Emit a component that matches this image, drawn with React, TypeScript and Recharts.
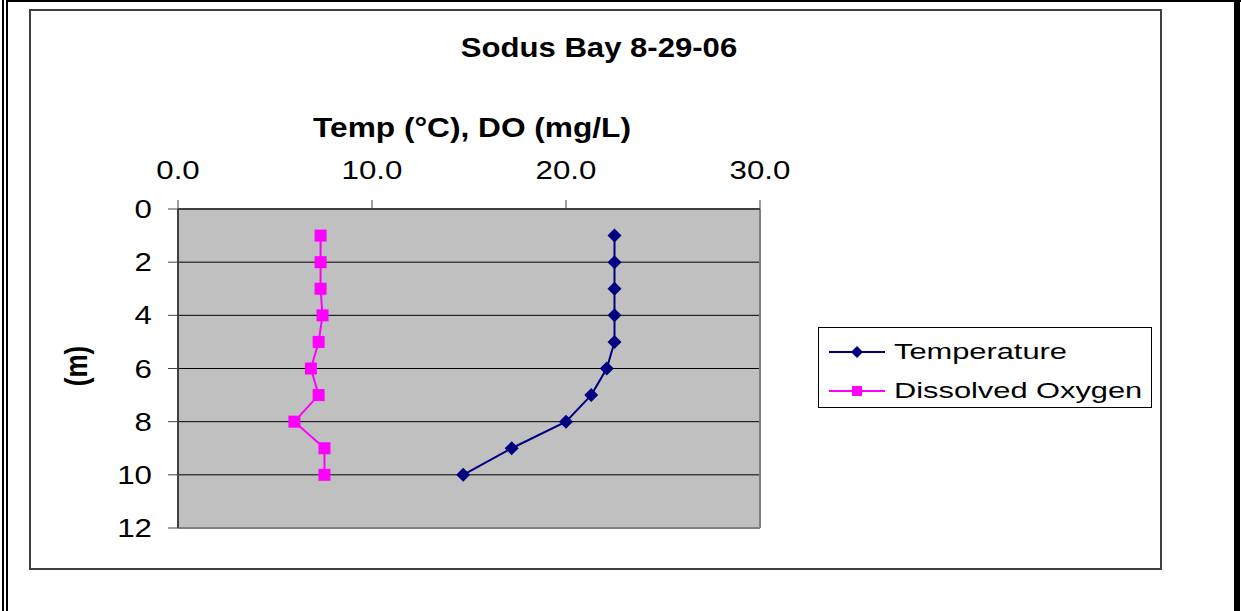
import React from "react";
import { LineChart, Line, XAxis, YAxis, CartesianGrid, ReferenceLine } from "recharts";

// depth (m) and readings per depth
const depths = [1, 2, 3, 4, 5, 6, 7, 8, 9, 10];
const temperature = [22.5, 22.5, 22.5, 22.5, 22.5, 22.1, 21.3, 20.0, 17.2, 14.7];
const oxygen = [7.35, 7.35, 7.35, 7.45, 7.25, 6.85, 7.25, 6.0, 7.55, 7.55];

const xTicks = [0, 10, 20, 30];
const yTicks = [0, 2, 4, 6, 8, 10, 12];

const NAVY = "#000080";
const MAGENTA = "#FF00FF";
const FONT = "'Liberation Sans', Arial, sans-serif";

const data = depths.map((d, i) => ({ depth: d, temp: temperature[i], dox: oxygen[i] }));

const diamond = (p: any) => (
  <path
    key={`t-${p.index}`}
    d={`M${p.cx},${p.cy - 7} L${p.cx + 7},${p.cy} L${p.cx},${p.cy + 7} L${p.cx - 7},${p.cy} Z`}
    fill={NAVY}
  />
);

const square = (p: any) => (
  <rect key={`o-${p.index}`} x={p.cx - 6} y={p.cy - 6} width={12} height={12} fill={MAGENTA} />
);

// ticks are drawn a bit wider than the font, like the stretched original
const XTick = (p: any) => (
  <g transform={`translate(${p.x},${p.y - 21}) scale(1.25,1)`}>
    <text x={0} y={0} textAnchor="middle" fontSize={25} fontFamily={FONT} fill="#000">
      {Number(p.payload.value).toFixed(1)}
    </text>
  </g>
);

const YTick = (p: any) => (
  <g transform={`translate(${p.x},${p.y + 9}) scale(1.25,1)`}>
    <text x={0} y={0} textAnchor="end" fontSize={25} fontFamily={FONT} fill="#000">
      {p.payload.value}
    </text>
  </g>
);

function LegendRow({ top, label, marker }: { top: number; label: string; marker: "d" | "s" }) {
  const color = marker === "d" ? NAVY : MAGENTA;
  return (
    <div style={{ position: "absolute", left: 0, top, width: 330, height: 30 }}>
      <svg width={70} height={30} style={{ position: "absolute", left: 10, top: 0 }}>
        <line x1={0} y1={15} x2={56} y2={15} stroke={color} strokeWidth={2} />
        {marker === "d" ? (
          <path d="M28,9 L34,15 L28,21 L22,15 Z" fill={color} />
        ) : (
          <rect x={23} y={10} width={10} height={10} fill={color} />
        )}
      </svg>
      <div
        style={{
          position: "absolute",
          left: 75,
          top: 0,
          lineHeight: "30px",
          fontSize: 22,
          fontFamily: FONT,
          whiteSpace: "nowrap",
          transform: "scaleX(1.4)",
          transformOrigin: "left center",
        }}
      >
        {label}
      </div>
    </div>
  );
}

export default function App() {
  return (
    <div style={{ position: "absolute", left: 0, top: 0, width: 1241, height: 611, background: "#fff", overflow: "hidden" }}>
      {/* page frame */}
      <div style={{ position: "absolute", left: 2, top: 0, width: 2, height: 611, background: "#000" }} />
      <div style={{ position: "absolute", left: 6, top: 0, width: 2, height: 611, background: "#000" }} />
      <div style={{ position: "absolute", left: 6, top: 0, width: 1235, height: 2, background: "#000" }} />
      <div style={{ position: "absolute", left: 1234, top: 0, width: 6, height: 611, background: "#000" }} />
      {/* chart box */}
      <div style={{ position: "absolute", left: 29, top: 9, width: 1129, height: 557, border: "2px solid #404040" }} />

      <div style={{ position: "absolute", left: 0, top: 0 }}>
        <LineChart
          width={1241}
          height={611}
          data={data}
          layout="vertical"
          margin={{ top: 179, right: 481, bottom: 83, left: 118 }}
        >
          <CartesianGrid vertical={false} fill="#C0C0C0" fillOpacity={1} stroke="#000" strokeWidth={1} />
          <XAxis
            type="number"
            orientation="top"
            domain={[0, 30]}
            ticks={xTicks}
            height={30}
            tickSize={9}
            tickMargin={0}
            axisLine={{ stroke: "#404040", strokeWidth: 2 }}
            tickLine={{ stroke: "#404040" }}
            tick={XTick}
          />
          <YAxis
            type="number"
            dataKey="depth"
            domain={[0, 12]}
            ticks={yTicks}
            width={60}
            tickSize={10}
            tickMargin={16}
            axisLine={{ stroke: "#404040", strokeWidth: 2 }}
            tickLine={{ stroke: "#404040" }}
            tick={YTick}
          />
          <ReferenceLine x={30} stroke="#808080" strokeWidth={2} />
          <ReferenceLine y={12} stroke="#808080" strokeWidth={2} />
          <Line dataKey="temp" name="Temperature" stroke={NAVY} strokeWidth={2} dot={diamond} isAnimationActive={false} />
          <Line dataKey="dox" name="Dissolved Oxygen" stroke={MAGENTA} strokeWidth={2} dot={square} isAnimationActive={false} />
        </LineChart>
      </div>

      {/* titles */}
      <div
        style={{
          position: "absolute", left: 299, top: 32, width: 600, lineHeight: "32px", textAlign: "center",
          fontSize: 28, fontWeight: "bold", fontFamily: FONT, transform: "scaleX(1.11)",
        }}
      >
        Sodus Bay 8-29-06
      </div>
      <div
        style={{
          position: "absolute", left: 172, top: 112, width: 600, lineHeight: "32px", textAlign: "center",
          fontSize: 28, fontWeight: "bold", fontFamily: FONT, transform: "scaleX(1.13)",
        }}
      >
        Temp (°C), DO (mg/L)
      </div>
      <div
        style={{
          position: "absolute", left: 26, top: 350, width: 100, lineHeight: "32px", textAlign: "center",
          fontSize: 26, fontWeight: "bold", fontFamily: FONT, transform: "scaleX(1.2) rotate(-90deg)",
        }}
      >
        (m)
      </div>

      {/* legend */}
      <div style={{ position: "absolute", left: 818, top: 327, width: 332, height: 79, border: "1px solid #000" }}>
        <LegendRow top={9} label="Temperature" marker="d" />
        <LegendRow top={48} label="Dissolved Oxygen" marker="s" />
      </div>
    </div>
  );
}
